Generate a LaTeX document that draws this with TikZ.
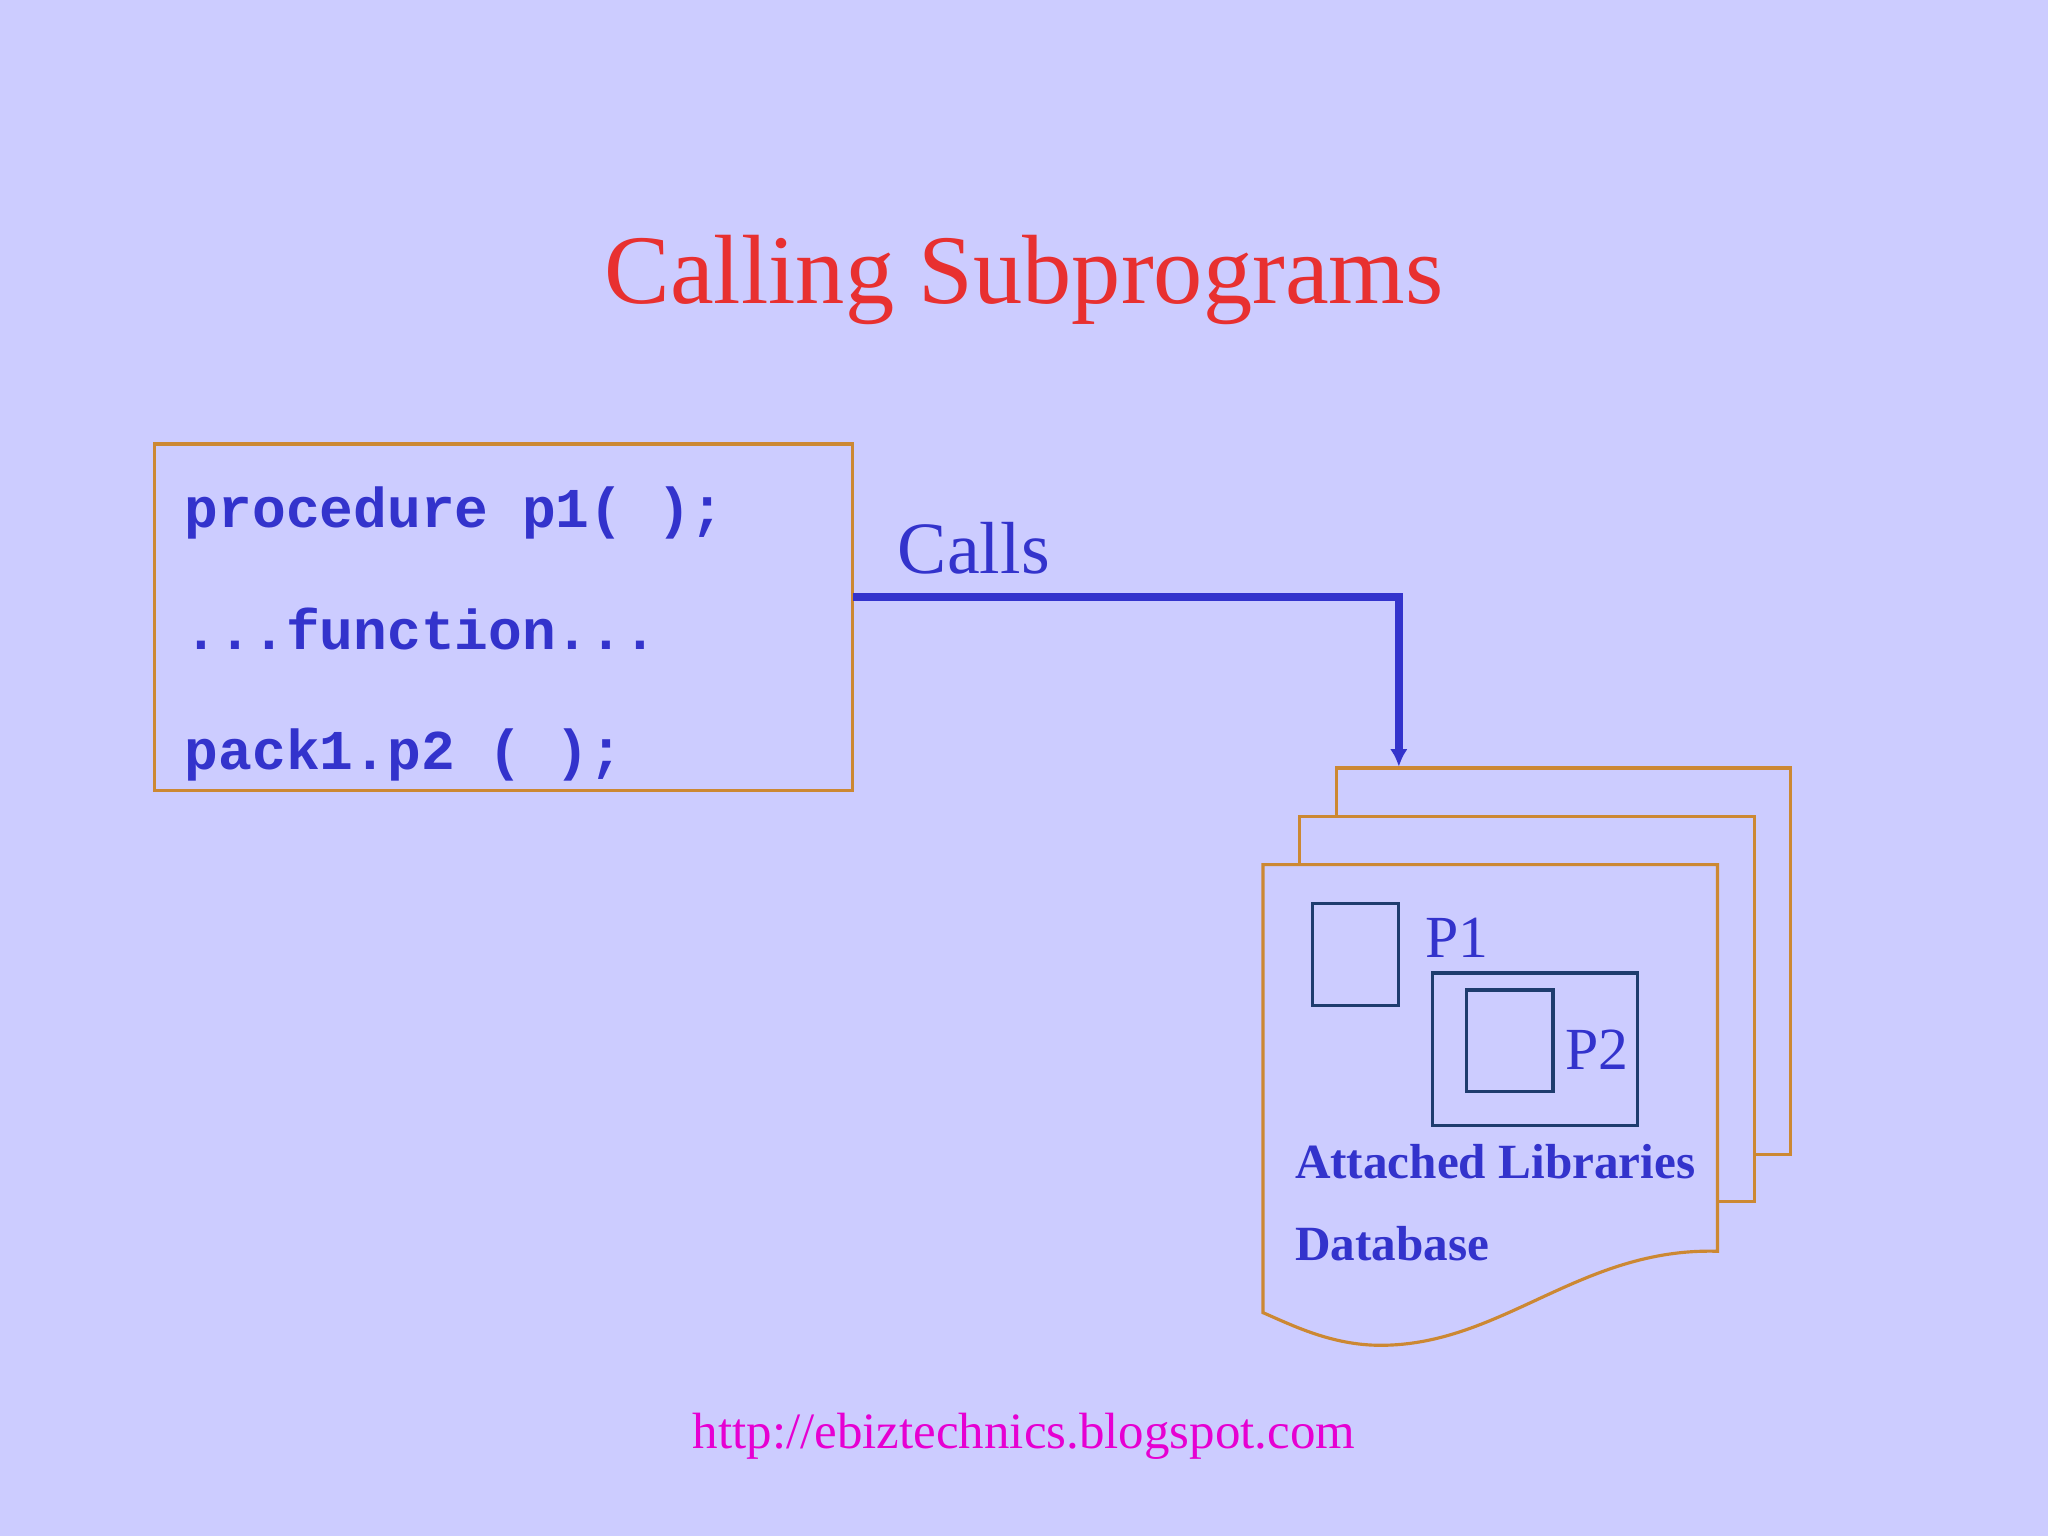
\documentclass[tikz,border=0pt]{standalone}
\usepackage{fontspec}
\usetikzlibrary{arrows.meta}
\setmainfont{Liberation Serif}
\setmonofont{Liberation Mono}
\definecolor{bg}{RGB}{204,204,255}
\definecolor{txt}{RGB}{51,51,204}
\definecolor{brd}{RGB}{204,136,51}
\definecolor{ttl}{RGB}{232,48,48}
\definecolor{url}{RGB}{230,0,210}
\definecolor{sq}{RGB}{30,60,110}
\tikzset{page/.style={draw=brd,line width=0.9pt,fill=bg},
 sqbox/.style={draw=sq,line width=0.9pt},
 code/.style={anchor=base west,text=txt,font=\fontsize{16}{16}\selectfont\ttfamily\bfseries}}
\begin{document}
\begin{tikzpicture}[x=0.013061cm,y=-0.013061cm]
\fill[bg] (0,0) rectangle (1568,1176);
\useasboundingbox (0,0) rectangle (1568,1176);
\node[text=ttl,font=\fontsize{28}{28}\selectfont,anchor=base] (title) at (784,232) {Calling Subprograms};
\draw[brd,line width=0.9pt] (118,340) rectangle (653,605);
\coordinate (boxr) at (653,457);
\node[code] (l1) at (132,404) {procedure p1(  );};
\node[code] (l2) at (132,497) {...function...};
\node[code] (l3) at (132,589) {pack1.p2 (  );};
\node[text=txt,font=\fontsize{21}{21}\selectfont,anchor=base west] (calls) at (678,439) {Calls};
\draw[page] (1023,884) -- (1023,588) -- (1371,588) -- (1371,884) -- cycle;
\draw[page] (995,920) -- (995,625) -- (1343,625) -- (1343,920) -- cycle;
\draw[page] (967,662) -- (1315,662) -- (1315,958) .. controls (1210,955) and (1150,1030) .. (1057,1030) .. controls (1020,1030) and (990,1015) .. (967,1005) -- cycle;
\coordinate (docs) at (1071,587);
\draw[txt,line width=2.2pt,-{Latex[length=5pt,width=5pt]}] (boxr) -| (docs);
\draw[sqbox] (1005,692) rectangle (1071,770);
\draw[sqbox] (1097,745) rectangle (1254,862);
\draw[sqbox] (1123,758) rectangle (1189,836);
\node[text=txt,font=\fontsize{17}{17}\selectfont,anchor=base west] (p1) at (1082,733) {P1};
\node[text=txt,font=\fontsize{17}{17}\selectfont,anchor=base west] (p2) at (1189,819) {P2};
\node[text=txt,font=\fontsize{14}{14}\selectfont\bfseries,anchor=base west] (att) at (982,902) {Attached Libraries};
\node[text=txt,font=\fontsize{14}{14}\selectfont\bfseries,anchor=base west] (db) at (982,965) {Database};
\node[text=url,font=\fontsize{14.5}{14.5}\selectfont,anchor=base] (u) at (784,1109) {http://ebiztechnics.blogspot.com};
\end{tikzpicture}
\end{document}
